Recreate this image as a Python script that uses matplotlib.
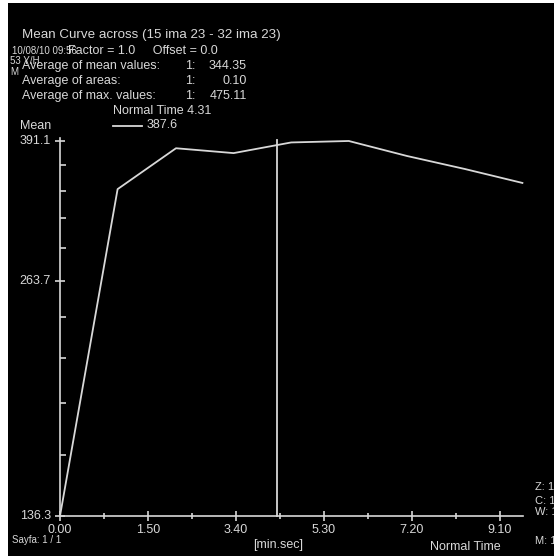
import matplotlib
matplotlib.use('Agg')
import matplotlib.pyplot as plt
from matplotlib.patches import Rectangle
from matplotlib.ticker import FixedLocator, NullFormatter

# --- data ---
time_s = [0, 72, 145, 217, 289, 361, 434, 506, 578]          # seconds
mean_vals = [136.3, 341.6, 383.2, 378.0, 389.5, 391.1, 374.9, 361.5, 347.6]

x_ticks = [0, 110, 220, 330, 440, 550]
x_labels = ['0.00', '1.50', '3.40', '5.30', '7.20', '9.10']
x_minor = [55, 165, 275, 385, 495]

y_labels = [136.3, 263.7, 391.1]
y_minor = [161.78, 187.26, 212.74, 238.22, 289.18, 314.66, 340.14, 365.62]

normal_time = 271          # 4 min 31 s
normal_val = 387.6

W, H = 554, 556
FG = '#d8d8d8'
FONT = ['Liberation Sans', 'DejaVu Sans']

fig = plt.figure(figsize=(W / 100, H / 100), dpi=100, facecolor='white')
# black screen area, white strip left and top as in the screenshot
bg = fig.add_axes([8 / W, 0, 1 - 8 / W, 1 - 3 / H], zorder=-5)
bg.set_facecolor('black')
bg.set_axis_off()
bg.add_patch(Rectangle((0, 0), 1, 1, transform=bg.transAxes, facecolor='black', edgecolor='none'))


def fx(x):
    return x / W


def fy(y):
    return 1 - y / H


def label(x, y, s, size=9, ha='left', va='center', color=FG):
    fig.text(fx(x), fy(y), s, fontsize=size, ha=ha, va=va, color=color, family=FONT)


# axes placed in pixel space: x 60..523, y 516..138
ax = fig.add_axes([fx(60), fy(516), (523 - 60) / W, (516 - 138) / H], zorder=2)
ax.patch.set_alpha(0)
ax.set_yscale('log')
ax.set_xlim(0, 578.75)
ax.set_ylim(136.3, 394.4)

for side in ('top', 'right'):
    ax.spines[side].set_visible(False)
for side in ('left', 'bottom'):
    ax.spines[side].set_color(FG)
    ax.spines[side].set_linewidth(1.2)

ax.plot(time_s, mean_vals, color=FG, lw=1.3, clip_on=False)
ax.plot([normal_time, normal_time], [136.3, 392.5], color=FG, lw=1.3, clip_on=False)

ax.xaxis.set_major_locator(FixedLocator(x_ticks))
ax.xaxis.set_minor_locator(FixedLocator(x_minor))
ax.xaxis.set_major_formatter(NullFormatter())
ax.yaxis.set_major_locator(FixedLocator(y_labels))
ax.yaxis.set_minor_locator(FixedLocator(y_minor))
ax.yaxis.set_major_formatter(NullFormatter())
ax.yaxis.set_minor_formatter(NullFormatter())
ax.tick_params(axis='both', which='major', direction='inout', length=7, width=1.2, color=FG)
ax.tick_params(axis='x', which='minor', direction='inout', length=4, width=1.2, color=FG)
ax.tick_params(axis='y', which='minor', direction='in', length=4, width=1.2, color=FG)

# tick labels drawn at pixel positions of the screenshot
for t, s in zip(x_ticks, x_labels):
    xp = ax.transData.transform((t, 136.3))[0]
    fig.text(xp / W, fy(530), s, fontsize=9, ha='center', va='center', color=FG, family=FONT)
for v in y_labels:
    yp = ax.transData.transform((0, v))[1]
    fig.text(fx(51), yp / H, f'{v:.1f}', fontsize=9, ha='right', va='center', color=FG, family=FONT)

# header block
label(22, 35, 'Mean Curve across (15 ima 23 - 32 ima 23)', size=9.6)
label(12, 51, '10/08/10 09:56', size=7)
label(68, 51, 'Factor = 1.0     Offset = 0.0')
label(10, 61, '53 Y/H', size=7)
label(10, 72, 'M', size=7)
rows = [('Average of mean values:', '344.35'),
        ('Average of areas:', '0.10'),
        ('Average of max. values:', '475.11')]
for i, (name, val) in enumerate(rows):
    y = 66 + i * 15
    label(22, y, name)
    label(185, y, '1:')
    label(247, y, val, ha='right')
label(113, 111, 'Normal Time 4.31')
fig.add_artist(plt.Line2D([fx(113), fx(142)], [fy(126), fy(126)], color=FG, lw=1.3))
label(147, 125, f'{normal_val}')
label(20, 126, 'Mean')

# footer
label(278, 545, '[min.sec]', ha='center')
label(430, 547, 'Normal Time')
label(12, 540, 'Sayfa: 1 / 1', size=7)
label(535, 487, 'Z: 1', size=8)
label(535, 501, 'C: 100', size=8)
label(535, 512, 'W: 100', size=8)
label(535, 541, 'M: 100', size=8)

fig.savefig('out.png', dpi=100, facecolor=fig.get_facecolor())
